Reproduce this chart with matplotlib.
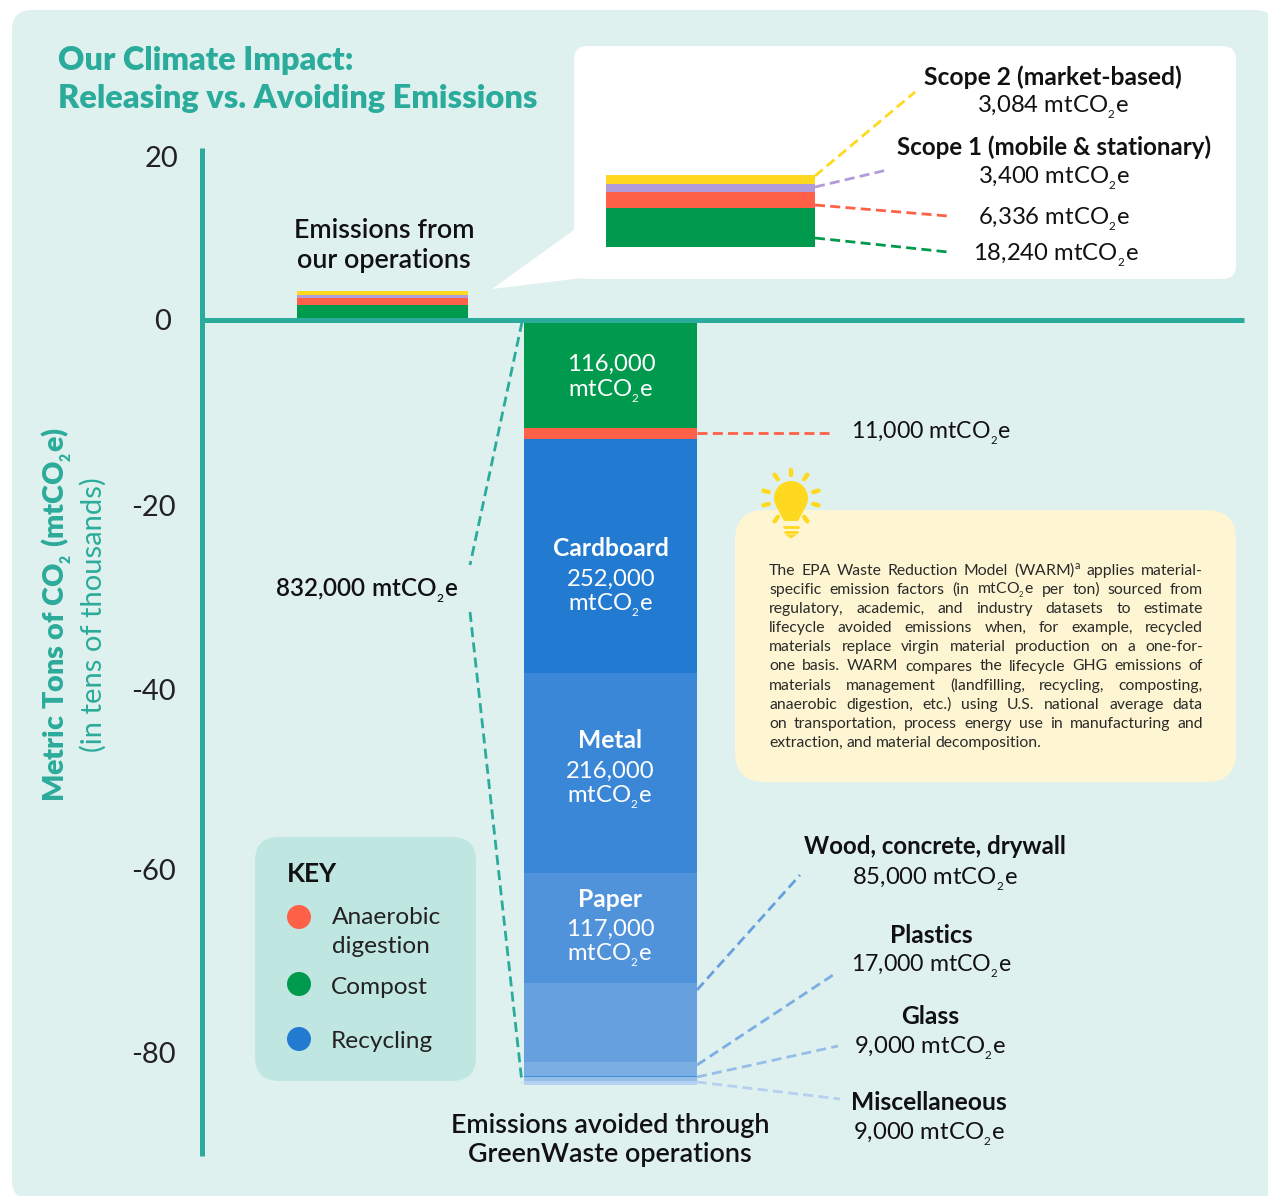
import numpy as np
import matplotlib
matplotlib.use("Agg")
import matplotlib.pyplot as plt
from matplotlib.patches import FancyBboxPatch, Polygon, Circle
from matplotlib.transforms import ScaledTranslation

plt.rcParams['font.family'] = ['Lato', 'DejaVu Sans']
plt.rcParams['mathtext.default'] = 'regular'

# values in tens of thousands of mtCO2e
ops_names = ["Compost", "Anaerobic digestion", "Scope 1", "Scope 2"]
ops_values = [1.68, 0.69, 0.345, 0.39]
ops_colors = ["#009A4E", "#FF6148", "#B19CD9", "#FFD91F"]

avoid_names = ["Compost", "Anaerobic digestion", "Cardboard", "Metal", "Paper",
               "Wood, concrete, drywall", "Plastics", "seam", "Glass", "Miscellaneous"]
avoid_values = [11.75, 1.2, 25.46, 21.76, 11.97, 8.6, 1.52, 0.1, 0.42, 0.5]
avoid_colors = ["#009A4E", "#FF6148", "#237BD1", "#3B87D7", "#5193DA",
                "#66A0DF", "#7BAEE3", "#3F90DC", "#95BEE8", "#B5D0F0"]

# the printed scale is not even above zero, so labels sit where the picture has them
tick_pos = [17.8, 0, -20.2, -40.2, -59.8, -79.7]
tick_labels = ["20", "0", "-20", "-40", "-60", "-80"]
tick_nudge_px = [3, -5, 0, 0, 0, 0]

note_lines = [
    "The EPA Waste Reduction Model (WARM)$^{a}$ applies material-",
    "specific emission factors (in mtCO$_{_{2}}$e per ton) sourced from",
    "regulatory, academic, and industry datasets to estimate",
    "lifecycle avoided emissions when, for example, recycled",
    "materials replace virgin material production on a one-for-",
    "one basis. WARM compares the lifecycle GHG emissions of",
    "materials management (landfilling, recycling, composting,",
    "anaerobic digestion, etc.) using U.S. national average data",
    "on transportation, process energy use in manufacturing and",
    "extraction, and material decomposition.",
]

W, H = 1268, 1196
TEAL = "#2BAB9B"
INK = "#111111"
CO2E = "mtCO$_{_{2}}$e"
PX_PER_UNIT = 9.19

fig = plt.figure(figsize=(W / 100, H / 100), dpi=100, facecolor="white")

# overlay in pixel coords for panels, labels and leaders
bg = fig.add_axes([0, 0, 1, 1], zorder=0)
bg.set_xlim(0, W)
bg.set_ylim(H, 0)
bg.axis("off")

ov = fig.add_axes([0, 0, 1, 1], zorder=3)
ov.set_xlim(0, W)
ov.set_ylim(H, 0)
ov.axis("off")
ov.patch.set_alpha(0)


def panel(axis, x0, y0, x1, y1, rad, color):
    axis.add_patch(FancyBboxPatch((x0 + rad, y0 + rad), x1 - x0 - 2 * rad, y1 - y0 - 2 * rad,
                                  boxstyle=f"round,pad={rad},rounding_size={rad}",
                                  fc=color, ec="none"))


def label(x, y, s, size=17.2, color=INK, weight="normal", ha="center"):
    # y is the visual middle of the text, converted to a baseline
    ov.text(x, y + 0.36 * size / 0.72, s, fontsize=size, color=color,
            fontweight=weight, ha=ha, va="baseline")


def bold(x, y, s, size=17.7, color=INK):
    label(x, y, s, size=size, color=color, weight="bold")


def leader(p0, p1, color, lw=2.0):
    ov.plot([p0[0], p1[0]], [p0[1], p1[1]], color=color, lw=lw, dashes=(3.6, 1.9))


panel(bg, 12, 10, 1275, 1200, 20, "#DFF1EE")
bg.add_patch(Polygon([(574, 230), (492, 289), (582, 278)], fc="white", ec="none"))
panel(bg, 574, 46, 1236, 279, 14, "white")
panel(bg, 735, 510, 1236, 782, 30, "#FEF6D2")
panel(bg, 255, 837, 476, 1081, 24, "#C0E6E1")

# main chart
ax_top, ax_bot, ax_left, ax_right = 148, 1156, 201.5, 1244
ax = fig.add_axes([ax_left / W, 1 - ax_bot / H, (ax_right - ax_left) / W, (ax_bot - ax_top) / H],
                  zorder=1)
ax.patch.set_alpha(0)
ax.set_xlim(ax_left, ax_right)
ax.set_ylim(-(ax_bot - 320) / PX_PER_UNIT, (320 - ax_top) / PX_PER_UNIT)

bottom = 0
for name, val, col in zip(ops_names, ops_values, ops_colors):
    ax.bar(382.5, val, 171, bottom=bottom, color=col, zorder=2, label=name)
    bottom += val

bottom = 0
for name, val, col in zip(avoid_names, avoid_values, avoid_colors):
    ax.bar(610.5, -val, 173, bottom=bottom, color=col, zorder=2, label=name)
    bottom -= val

for side in ["top", "right"]:
    ax.spines[side].set_visible(False)
ax.spines["bottom"].set_position(("data", 0))
for side in ["left", "bottom"]:
    ax.spines[side].set_color(TEAL)
    ax.spines[side].set_linewidth(3.6)
    ax.spines[side].set_capstyle("butt")
    ax.spines[side].set_zorder(3)
ax.set_xticks([])
ax.set_yticks(tick_pos, tick_labels)
ax.tick_params(axis="y", length=0, pad=18.5, labelsize=21, labelcolor="#222222")
for lab, dx in zip(ax.get_yticklabels(), tick_nudge_px):
    lab.set_transform(lab.get_transform() + ScaledTranslation(dx / 100, 0, fig.dpi_scale_trans))

# zoomed stack inside the callout
inset = fig.add_axes([606 / W, 1 - 247 / H, 209 / W, 72 / H], zorder=2)
inset.axis("off")
inset.set_ylim(0, sum(ops_values))
inset.set_xlim(0, 1)
bottom = 0
for val, col in zip(ops_values, ops_colors):
    inset.bar(0.5, val, 1, bottom=bottom, color=col)
    bottom += val

# title and axis titles
label(58, 58.5, "Our Climate Impact:", size=23.4, color=TEAL, weight="heavy", ha="left")
label(58, 96.5, "Releasing vs. Avoiding Emissions", size=23.4, color=TEAL, weight="heavy", ha="left")
ov.text(57, 614, "Metric Tons of CO$_{_{2}}$ (mtCO$_{_{2}}$e)", fontsize=20.6, color=TEAL, fontweight="heavy",
        rotation=90, ha="center", va="center")
ov.text(93, 615, "(in tens of thousands)", fontsize=21, color=TEAL, rotation=90, ha="center", va="center")

# callout labels
bold(1053, 76, "Scope 2 (market-based)")
label(1053, 104, "3,084 " + CO2E)
bold(1054, 146, "Scope 1 (mobile & stationary)", size=17.4)
label(1054, 175, "3,400 " + CO2E)
label(1054, 216, "6,336 " + CO2E)
label(1056, 252, "18,240 " + CO2E)
leader((815, 176), (915, 92), "#FFD91F")
leader((815, 187), (887, 170), "#B19CD9")
leader((815, 205), (948, 216), "#FF6148")
leader((815, 238), (948, 252), "#009A4E")

label(384, 228.5, "Emissions from", size=19.4, weight="semibold")
label(384, 258.5, "our operations", size=19.4, weight="semibold")

# labels on the avoided stack
label(611, 362, "116,000", color="white")
label(611, 388, CO2E, color="white")
bold(611, 547, "Cardboard", color="white")
label(611, 577, "252,000", color="white")
label(611, 602, CO2E, color="white")
bold(610, 739, "Metal", color="white")
label(610, 769, "216,000", color="white")
label(610, 794, CO2E, color="white")
bold(610, 898, "Paper", color="white")
label(610, 927, "117,000", color="white")
label(610, 952, CO2E, color="white")

label(851, 431, "11,000 " + CO2E, ha="left", size=16.6)
leader((697, 433), (829, 433), "#FF6148")

label(275, 588, "832,000 " + CO2E, size=17.5, weight="semibold", ha="left")
leader((522, 322), (470, 565), TEAL)
leader((470, 612), (522, 1083), TEAL)

bold(935, 845, "Wood, concrete, drywall", size=17.3)
label(935, 876, "85,000 " + CO2E)
bold(931, 934, "Plastics")
label(931, 964, "17,000 " + CO2E, size=16.7)
bold(930, 1015, "Glass")
label(930, 1045, "9,000 " + CO2E)
bold(929, 1101, "Miscellaneous")
label(929, 1131, "9,000 " + CO2E)
leader((697, 990), (800, 875), "#66A0DF")
leader((697, 1065), (833, 975), "#7BAEE3")
leader((697, 1077), (838, 1046), "#95BEE8")
leader((697, 1082), (840, 1099), "#B5D0F0")

label(610, 1123.5, "Emissions avoided through", size=19.4, weight="semibold")
label(610, 1152.5, "GreenWaste operations", size=19.4, weight="semibold")

# key
label(287, 873, "KEY", size=19, weight="bold", ha="left")
ov.add_patch(Circle((299, 917), 12, fc="#FF6148", ec="none"))
ov.add_patch(Circle((299, 984), 12, fc="#009A4E", ec="none"))
ov.add_patch(Circle((299, 1039), 12, fc="#237BD1", ec="none"))
label(332, 915.5, "Anaerobic", ha="left", color="#222222", size=17.6)
label(332, 944.5, "digestion", ha="left", color="#222222", size=17.6)
label(331, 985.5, "Compost", ha="left", color="#222222", size=17.6)
label(331, 1039.5, "Recycling", ha="left", color="#222222", size=17.6)

# light bulb
YEL = "#FFD91F"
ov.add_patch(Circle((791, 498), 17, fc=YEL, ec="none"))
ov.add_patch(Polygon([(776, 506), (806, 506), (798, 521), (784, 521)], fc=YEL, ec="none"))
ov.add_patch(Polygon([(785, 534.5), (797, 534.5), (791, 538.5)], fc=YEL, ec="none"))
ov.plot([784, 798], [527, 527], color=YEL, lw=2, solid_capstyle="round")
ov.plot([785, 797], [531.5, 531.5], color=YEL, lw=2, solid_capstyle="round")
for deg in [90, 55, 15, -15, -55, 125, 165, 195, 235]:
    a = np.radians(deg)
    ov.plot([791 + 23 * np.cos(a), 791 + 28.5 * np.cos(a)], [498 - 23 * np.sin(a), 498 - 28.5 * np.sin(a)],
            color=YEL, lw=3.2, solid_capstyle="round")

# justified note, word by word
fig.canvas.draw()
rend = fig.canvas.get_renderer()
x_left, x_right = 769, 1203
note_size = 11.3
for i, line in enumerate(note_lines):
    y = 570 + i * 19.1
    words = line.split(" ")
    items = [ov.text(0, y + 5, w, fontsize=note_size, color="#2A2A2A", va="baseline") for w in words]
    widths = [t.get_window_extent(rend).width for t in items]
    if i == len(note_lines) - 1:
        gap = 3.6
    else:
        gap = (x_right - x_left - sum(widths)) / (len(words) - 1)
    x = x_left
    for t, wd in zip(items, widths):
        t.set_x(x)
        x += wd + gap

fig.savefig("out.png", dpi=100)
